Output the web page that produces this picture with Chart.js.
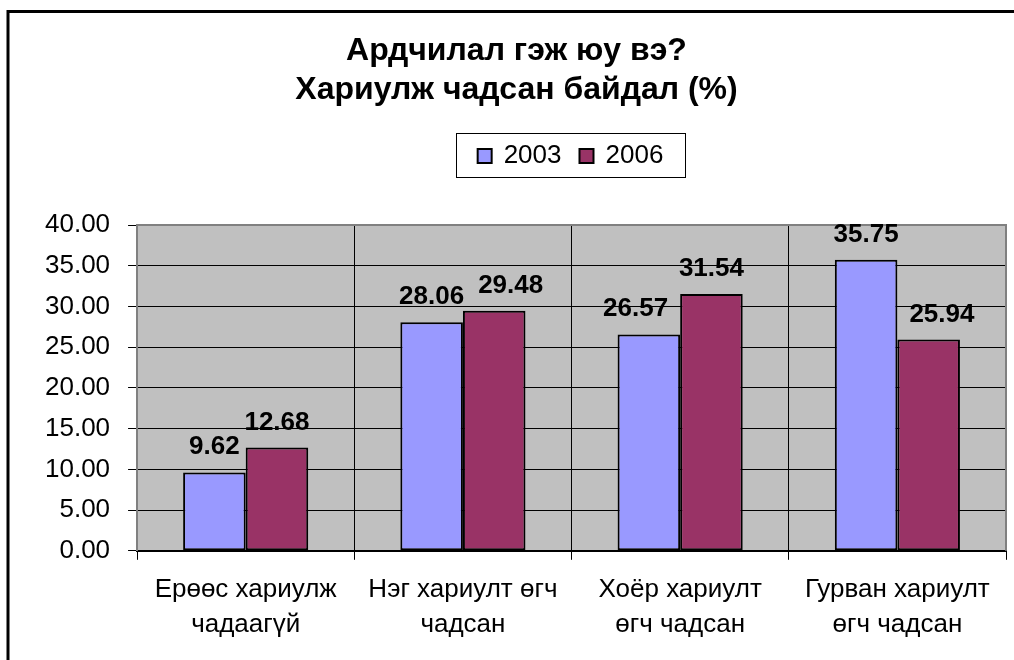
<!DOCTYPE html>
<html>
<head>
<meta charset="utf-8">
<script src="https://cdn.jsdelivr.net/npm/chart.js@4"></script>
<style>
html,body{margin:0;padding:0;background:#fff;}
#wrap{width:1014px;height:660px;position:relative;}
</style>
</head>
<body>
<div id="wrap"><canvas id="c" width="1014" height="660"></canvas></div>
<script>
// ---- data ----
const titleLines = ['Ардчилал гэж юу вэ?', 'Хариулж чадсан байдал (%)'];
const categories = [
  ['Ерөөс хариулж', 'чадаагүй'],
  ['Нэг хариулт өгч', 'чадсан'],
  ['Хоёр хариулт', 'өгч чадсан'],
  ['Гурван хариулт', 'өгч чадсан']
];
const seriesLabels = ['2003', '2006'];
const values2003 = [9.62, 28.06, 26.57, 35.75];
const values2006 = [12.68, 29.48, 31.54, 25.94];
const yMin = 0, yMax = 40, yStep = 5;

// ---- styles ----
const FONT = "'Liberation Sans', Arial, sans-serif";
const colors = ['#9999FF', '#993366'];

const framePlugin = {
  id: 'frame',
  beforeDraw(chart) {
    const ctx = chart.ctx, a = chart.chartArea;
    ctx.save();
    ctx.fillStyle = '#ffffff';
    ctx.fillRect(0, 0, chart.width, chart.height);
    ctx.fillStyle = '#C0C0C0';
    ctx.fillRect(a.left, a.top, a.right - a.left, a.bottom - a.top);
    ctx.restore();
  },
  afterDatasetsDraw(chart) {
    const ctx = chart.ctx, a = chart.chartArea;
    ctx.save();
    ctx.strokeStyle = '#808080';
    ctx.lineWidth = 2;
    ctx.beginPath();
    ctx.moveTo(a.left, a.top);
    ctx.lineTo(a.right, a.top);
    ctx.lineTo(a.right, a.bottom);
    ctx.stroke();
    ctx.restore();
  },
  afterDraw(chart) {
    const ctx = chart.ctx;
    ctx.save();
    // outer frame (top and left edges)
    ctx.strokeStyle = '#000';
    ctx.lineWidth = 3;
    ctx.beginPath();
    ctx.moveTo(8, chart.height);
    ctx.lineTo(8, 11.5);
    ctx.lineTo(chart.width, 11.5);
    ctx.stroke();

    // boxed legend
    const bx = 456, by = 133, bw = 229, bh = 44;
    ctx.fillStyle = '#fff';
    ctx.fillRect(bx, by, bw, bh);
    ctx.strokeStyle = '#000';
    ctx.lineWidth = 1;
    ctx.strokeRect(bx + 0.5, by + 0.5, bw, bh);
    ctx.font = "26px " + FONT;
    ctx.textBaseline = 'middle';
    ctx.textAlign = 'left';
    const sq = 14, gapT = 12, gapI = 18;
    const ds = chart.data.datasets;
    const widths = ds.map(d => ctx.measureText(d.label).width);
    let total = 0;
    widths.forEach((w, i) => { total += sq + gapT + w + (i < widths.length - 1 ? gapI : 0); });
    let x = bx + (bw - total) / 2;
    const cy = by + bh / 2 + 1;
    ds.forEach((d, i) => {
      ctx.fillStyle = d.backgroundColor;
      ctx.fillRect(x, cy - sq / 2, sq, sq);
      ctx.lineWidth = 2;
      ctx.strokeStyle = '#000';
      ctx.strokeRect(x, cy - sq / 2, sq, sq);
      ctx.fillStyle = '#000';
      ctx.fillText(d.label, x + sq + gapT, cy);
      x += sq + gapT + widths[i] + gapI;
    });
    ctx.restore();
  }
};

// value labels above bars; a label that would collide with a neighbouring bar
// or with the previous label of the same category is nudged sideways
const labelPlugin = {
  id: 'valueLabels',
  afterDatasetsDraw(chart) {
    const ctx = chart.ctx;
    ctx.save();
    ctx.font = "bold 26px " + FONT;
    ctx.fillStyle = '#000';
    ctx.textAlign = 'center';
    ctx.textBaseline = 'alphabetic';
    const textH = 20, gap = 18, sep = 14, barSep = 12;
    const n = chart.data.labels.length;
    const nd = chart.data.datasets.length;
    for (let i = 0; i < n; i++) {
      let prev = null;
      chart.data.datasets.forEach((d, di) => {
        const bar = chart.getDatasetMeta(di).data[i];
        const txt = d.data[i].toFixed(2);
        const w = ctx.measureText(txt).width;
        let x = bar.x;
        const y = bar.y - gap;
        // avoid neighbouring bars of the same category
        for (let oj = 0; oj < nd; oj++) {
          if (oj === di) continue;
          const ob = chart.getDatasetMeta(oj).data[i];
          const obL = ob.x - ob.width / 2, obR = ob.x + ob.width / 2;
          if (ob.y < y && y - textH < ob.base) {
            if (obL > bar.x && x + w / 2 > obL - 1) x = obL - barSep - w / 2;
            if (obR < bar.x && x - w / 2 < obR + 1) x = obR + barSep + w / 2;
          }
        }
        if (prev && Math.abs(prev.y - y) < textH) {
          const need = prev.right + sep - (x - w / 2);
          if (need > 0) x += need;
        }
        ctx.fillText(txt, x, y);
        prev = { right: x + w / 2, y };
      });
    }
    ctx.restore();
  }
};

new Chart(document.getElementById('c'), {
  type: 'bar',
  data: {
    labels: categories,
    datasets: [
      { label: seriesLabels[0], data: values2003, backgroundColor: colors[0], borderColor: '#000', borderWidth: 2, borderSkipped: false },
      { label: seriesLabels[1], data: values2006, backgroundColor: colors[1], borderColor: '#000', borderWidth: 2, borderSkipped: false }
    ]
  },
  options: {
    responsive: false,
    animation: false,
    devicePixelRatio: 1,
    layout: { padding: { left: 27, right: 8, top: 0, bottom: 6 } },
    datasets: { bar: { barPercentage: 1, categoryPercentage: 0.576 } },
    plugins: {
      legend: { display: false },
      tooltip: { enabled: false },
      title: {
        display: true,
        text: titleLines,
        color: '#000',
        font: { family: FONT, size: 32, weight: 'bold', lineHeight: 1.22 },
        padding: { top: 32, bottom: 115 }
      }
    },
    scales: {
      x: {
        grid: { display: true, color: '#000', lineWidth: 1, drawTicks: true, tickLength: 9, tickColor: '#000', offset: true },
        border: { display: true, color: '#000', width: 2 },
        ticks: {
          color: '#000', font: { family: FONT, size: 26, lineHeight: 1.35 },
          padding: 12, maxRotation: 0, autoSkip: false
        }
      },
      y: {
        min: yMin, max: yMax,
        grid: { color: '#000', lineWidth: 1, drawTicks: true, tickLength: 9, tickColor: '#000' },
        border: { display: true, color: '#808080', width: 2 },
        ticks: {
          stepSize: yStep, color: '#000', padding: 18,
          font: { family: FONT, size: 26 },
          callback: v => Number(v).toFixed(2)
        }
      }
    }
  },
  plugins: [framePlugin, labelPlugin]
});
</script>
</body>
</html>
